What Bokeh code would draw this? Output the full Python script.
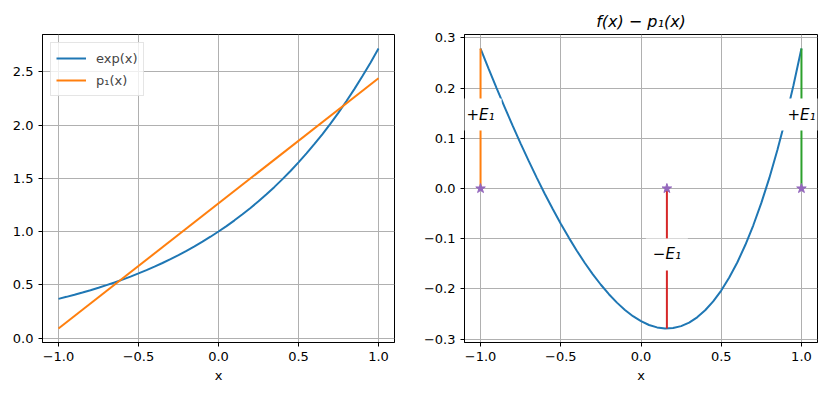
from bokeh.plotting import figure
from bokeh.layouts import row
from bokeh.models import Label, FixedTicker, Range1d, Legend, LegendItem
from bokeh.embed import file_html
from bokeh.resources import INLINE

# ---- data ----
x_vals = [-1.0, -0.95, -0.9, -0.85, -0.8, -0.75, -0.7, -0.65, -0.6, -0.55, -0.5,
          -0.45, -0.4, -0.35, -0.3, -0.25, -0.2, -0.15, -0.1, -0.05, 0.0,
          0.05, 0.1, 0.15, 0.2, 0.25, 0.3, 0.35, 0.4, 0.45, 0.5,
          0.55, 0.6, 0.65, 0.7, 0.75, 0.8, 0.85, 0.9, 0.95, 1.0]
exp_vals = [0.3679, 0.3867, 0.4066, 0.4274, 0.4493, 0.4724, 0.4966, 0.5220, 0.5488, 0.5769, 0.6065,
            0.6376, 0.6703, 0.7047, 0.7408, 0.7788, 0.8187, 0.8607, 0.9048, 0.9512, 1.0000,
            1.0513, 1.1052, 1.1618, 1.2214, 1.2840, 1.3499, 1.4191, 1.4918, 1.5683, 1.6487,
            1.7333, 1.8221, 1.9155, 2.0138, 2.1170, 2.2255, 2.3396, 2.4596, 2.5857, 2.7183]
p1_x = [-1.0, 1.0]
p1_vals = [0.0891, 2.4395]
err_vals = [0.2788, 0.2389, 0.2000, 0.1621, 0.1252, 0.0895, 0.0550, 0.0217, -0.0104, -0.0410, -0.0702,
            -0.0978, -0.1239, -0.1483, -0.1709, -0.1917, -0.2105, -0.2273, -0.2419, -0.2543, -0.2643,
            -0.2718, -0.2766, -0.2787, -0.2779, -0.2741, -0.2670, -0.2565, -0.2425, -0.2248, -0.2032,
            -0.1774, -0.1473, -0.1126, -0.0732, -0.0287, 0.0211, 0.0765, 0.1376, 0.2050, 0.2788]
E1 = 0.2788
x_star = 0.1614
node_x = [-1.0, x_star, 1.0]
node_y = [0.0, 0.0, 0.0]

x_ticks = [-1.0, -0.5, 0.0, 0.5, 1.0]
x_tick_labels = ["\u22121.0", "\u22120.5", "0.0", "0.5", "1.0"]
left_y_ticks = [0.0, 0.5, 1.0, 1.5, 2.0, 2.5]
left_y_labels = ["0.0", "0.5", "1.0", "1.5", "2.0", "2.5"]
right_y_ticks = [-0.3, -0.2, -0.1, 0.0, 0.1, 0.2, 0.3]
right_y_labels = ["\u22120.3", "\u22120.2", "\u22120.1", "0.0", "0.1", "0.2", "0.3"]

BLUE, ORANGE, GREEN, RED, PURPLE = "#1f77b4", "#ff7f0e", "#2ca02c", "#d62728", "#9467bd"
FONT = "DejaVu Sans"


def style(p, xt, xl, yt, yl):
    p.outline_line_color = "black"
    p.outline_line_alpha = 1.0
    p.outline_line_width = 1
    for ax in (p.xaxis[0], p.yaxis[0]):
        ax.axis_line_color = "black"
        ax.major_tick_line_color = "black"
        ax.major_tick_out = 4
        ax.major_tick_in = 0
        ax.minor_tick_line_color = None
        ax.major_label_text_font = FONT
        ax.major_label_text_font_size = "13px"
        ax.major_label_text_color = "black"
        ax.axis_label_text_font = FONT
        ax.axis_label_text_font_size = "13px"
        ax.axis_label_text_font_style = "normal"
        ax.axis_label_text_color = "black"
    p.xaxis[0].ticker = FixedTicker(ticks=xt)
    p.xaxis[0].major_label_overrides = {t: l for t, l in zip(xt, xl)}
    p.yaxis[0].ticker = FixedTicker(ticks=yt)
    p.yaxis[0].major_label_overrides = {t: l for t, l in zip(yt, yl)}
    p.xaxis[0].axis_label = "x"
    p.xaxis[0].axis_label_standoff = 4
    p.xgrid[0].ticker = FixedTicker(ticks=xt)
    p.ygrid[0].ticker = FixedTicker(ticks=yt)
    for g in (p.xgrid[0], p.ygrid[0]):
        g.grid_line_color = "#b0b0b0"
        g.grid_line_width = 1


# ---- left figure ----
p1 = figure(frame_width=352, frame_height=308, min_border_left=42, min_border_right=24,
            min_border_top=34, min_border_bottom=51, output_backend="svg",
            toolbar_location=None, x_range=Range1d(-1.1, 1.1), y_range=Range1d(-0.042, 2.850))
r_exp = p1.line(x_vals, exp_vals, line_color=BLUE, line_width=2)
r_p1 = p1.line(p1_x, p1_vals, line_color=ORANGE, line_width=2)
style(p1, x_ticks, x_tick_labels, left_y_ticks, left_y_labels)
leg = Legend(items=[LegendItem(label="exp(x)", renderers=[r_exp]),
                    LegendItem(label="p\u2081(x)", renderers=[r_p1])],
             location="top_left")
leg.label_text_font = FONT
leg.label_text_font_size = "13px"
leg.glyph_width = 30
leg.glyph_height = 20
leg.label_height = 20
leg.label_standoff = 10
leg.spacing = 2
leg.padding = 5
leg.margin = 8
leg.border_line_color = "#cccccc"
leg.background_fill_alpha = 0.8
p1.add_layout(leg)

# ---- right figure ----
p2 = figure(frame_width=353, frame_height=308, min_border_left=46, min_border_right=9,
            min_border_top=34, min_border_bottom=51, output_backend="svg",
            toolbar_location=None, x_range=Range1d(-1.1, 1.1), y_range=Range1d(-0.3067, 0.3067),
            title="f(x) \u2212 p\u2081(x)")
p2.title.align = "center"
p2.title.text_font = FONT
p2.title.text_font_size = "16px"
p2.title.text_font_style = "italic"
p2.title.text_color = "black"
p2.title.standoff = 8
p2.line(x_vals, err_vals, line_color=BLUE, line_width=2)
p2.segment(x0=[node_x[0]], y0=[0.0], x1=[node_x[0]], y1=[E1], line_color=ORANGE, line_width=2)
p2.segment(x0=[node_x[2]], y0=[0.0], x1=[node_x[2]], y1=[E1], line_color=GREEN, line_width=2)
p2.segment(x0=[node_x[1]], y0=[0.0], x1=[node_x[1]], y1=[-E1], line_color=RED, line_width=2)
p2.scatter(node_x, node_y, marker="star", size=10, fill_color=PURPLE, line_color=PURPLE)
style(p2, x_ticks, x_tick_labels, right_y_ticks, right_y_labels)

for lx, ly, txt in [(node_x[0], E1 / 2, "+E\u2081"), (node_x[2], E1 / 2, "+E\u2081"),
                    (node_x[1], -E1 / 2, "\u2212E\u2081")]:
    p2.add_layout(Label(x=lx, y=ly, y_offset=4, text=txt, text_align="center",
                        text_baseline="middle", text_font=FONT, text_font_size="15px",
                        text_font_style="italic", text_color="black",
                        background_fill_color="white", padding=7))

layout = row(p1, p2)
open("out.html", "w").write(file_html(layout, INLINE))
